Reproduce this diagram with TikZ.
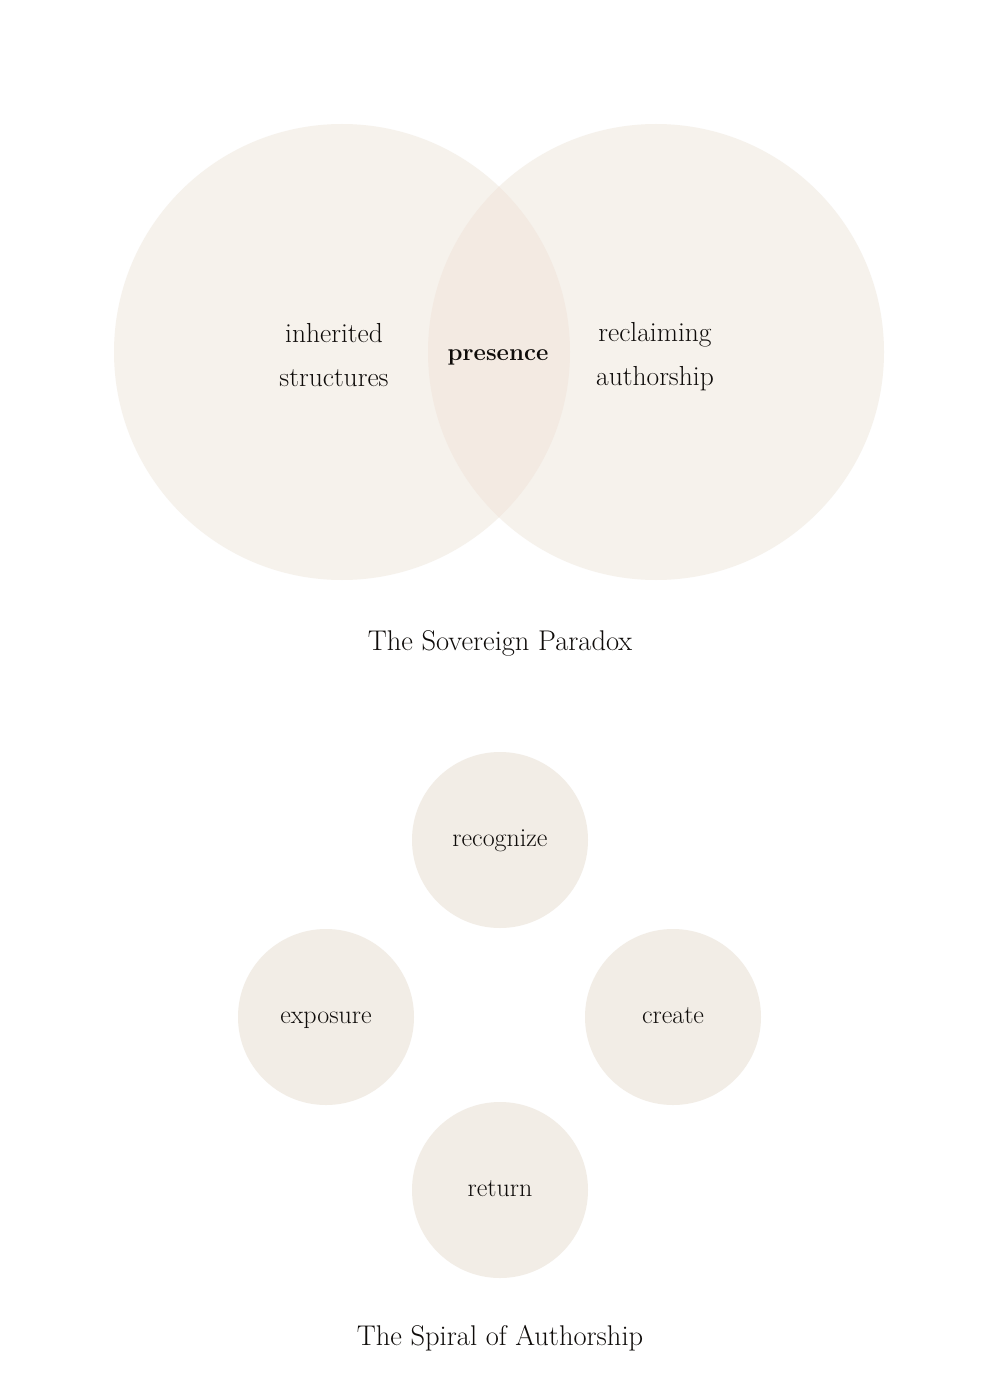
\documentclass[tikz,border=0pt]{standalone}
\usepackage{xcolor}
\definecolor{venn}{RGB}{246,242,236}
\definecolor{vennmid}{RGB}{243,234,226}
\definecolor{stage}{RGB}{242,237,230}
\definecolor{ink}{RGB}{15,12,10}
\begin{document}
\begin{tikzpicture}[x=1pt,y=-1pt,
  bigcirc/.style={circle,fill=venn,draw=none,minimum size=456pt,inner sep=0pt},
  smallcirc/.style={circle,fill=stage,draw=none,minimum size=176pt,inner sep=0pt,text=ink,
    text height=1.2em,text depth=0em,font=\fontsize{26}{30}\selectfont},
  lbl/.style={align=center,text=ink,font=\fontsize{27.5}{44}\selectfont},
  ttl/.style={text=ink,font=\fontsize{28.5}{32}\selectfont}]
\useasboundingbox[fill=white] (0,0) rectangle (1000,1399);
\node[bigcirc] (L) at (342,352) {};
\node[bigcirc] (R) at (656,352) {};
\begin{scope}
  \clip (L.center) circle[radius=228pt];
  \fill[vennmid] (R.center) circle[radius=228pt];
\end{scope}
\node[lbl] (inh) at (334,355) {inherited\\structures};
\node[lbl] (rec) at (655,357) {reclaiming\\authorship};
\node[lbl,font=\fontsize{24}{30}\bfseries\selectfont] (pres) at (498,357) {presence};
\node[ttl] (t1) at (500,643) {The Sovereign Paradox};
\node[smallcirc] (c1) at (500,840) {recognize};
\node[smallcirc] (c2) at (326,1017) {exposure};
\node[smallcirc] (c3) at (673,1017) {create};
\node[smallcirc] (c4) at (500,1190) {return};
\node[ttl] (t2) at (500,1338) {The Spiral of Authorship};
\end{tikzpicture}
\end{document}
